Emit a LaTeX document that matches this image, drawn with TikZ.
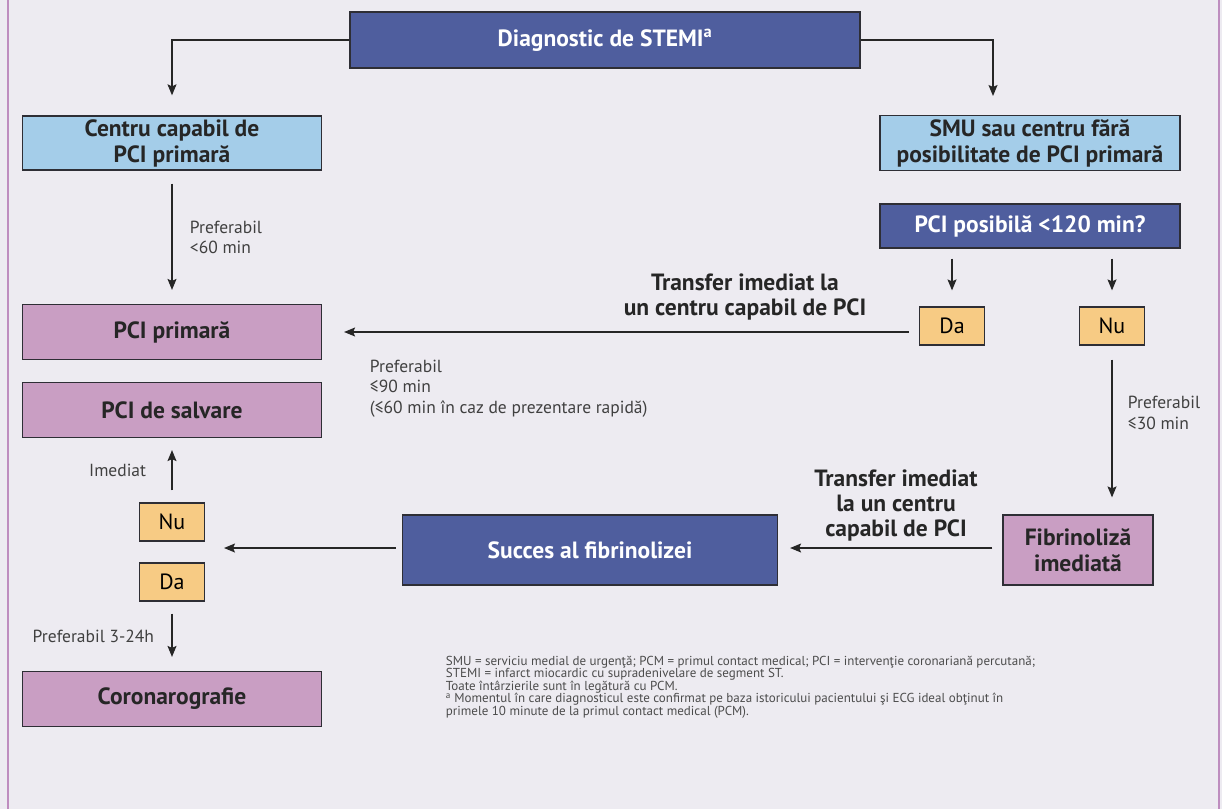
\documentclass[tikz,border=0pt]{standalone}
\usepackage{fontspec}
\setmainfont{PT Sans}
\usetikzlibrary{arrows,arrows.meta,positioning,calc}
\definecolor{fondgri}{HTML}{EDEBF1}
\definecolor{albastru}{HTML}{4F5E9E}
\definecolor{bleu}{HTML}{A4CDE9}
\definecolor{mov}{HTML}{C99EC3}
\definecolor{portocaliu}{HTML}{F7CB84}
\definecolor{cadru}{HTML}{BE8DBF}
\definecolor{contur}{HTML}{2E2E35}
\tikzstyle{block} = [rectangle, draw=contur, line width=1.2pt, align=center,
    font=\fontsize{23.5}{26}\selectfont\bfseries, text=black!85]
\tikzstyle{dark} = [block, fill=albastru, text=white]
\tikzstyle{light} = [block, fill=bleu, minimum width=299pt, minimum height=54pt]
\tikzstyle{pink} = [block, fill=mov, minimum width=299pt, minimum height=55pt]
\tikzstyle{answer} = [rectangle, draw=contur, line width=1.2pt, fill=portocaliu,
    minimum width=65pt, minimum height=38pt, font=\fontsize{22}{24}\selectfont]
\tikzstyle{note} = [font=\fontsize{17.5}{20.5}\selectfont, text=black!75, align=left]
\tikzstyle{transfer} = [font=\fontsize{23.5}{25}\selectfont\bfseries, text=black!85, align=center]

\begin{document}
\begin{tikzpicture}[x=1pt,y=-1pt,->,>={Stealth[length=11pt,width=9pt,inset=2pt]},
                    line width=1.2pt,draw=black!85]
  \useasboundingbox (0,0) rectangle (1222,809);
  \fill[fondgri] (0,0) rectangle (1222,809);
  \draw[-,cadru,line width=2pt] (8,0) -- (8,809) (1219,0) -- (1219,809);

  \node[dark, minimum width=510pt, minimum height=56pt] (diag) at (605,40)
      {Diagnostic de STEMI\textsuperscript{a}};
  \node[light] (centru) at (172,143) {Centru capabil de\\PCI primară};
  \node[light, minimum width=300pt] (smu) at (1030,143)
      {SMU sau centru fără\\posibilitate de PCI primară};
  \node[dark, minimum width=300pt, minimum height=44pt] (posibil) at (1030,226)
      {PCI posibilă <120 min?};
  \node[answer] (da1) at (952,326) {Da};
  \node[answer] (nu1) at (1112,326) {Nu};
  \node[pink] (primara) at (172,332) {PCI primară};
  \node[pink] (salvare) at (172,410) {PCI de salvare};
  \node[answer] (nu2) at (172,522) {Nu};
  \node[answer] (da2) at (172,582) {Da};
  \node[pink] (corono) at (172,699) {Coronarografie};
  \node[dark, minimum width=375pt, minimum height=70pt] (succes) at (590,550)
      {Succes al fibrinolizei};
  \node[pink, minimum width=150pt, minimum height=70pt] (fibri) at (1078,550)
      {Fibrinoliză\\imediată};
  \coordinate (smuin) at (993,116);
  \coordinate (decizie) at (224,548);

  % sageti
  \draw[shorten >=20pt] (diag.west) -| (centru.north);
  \draw[shorten >=20pt] (diag.east) -| (smuin);
  \draw[shorten <=13pt, shorten >=14pt] (centru) -- (primara)
      node[note, midway, right=14pt] {Preferabil\\<60 min};
  \draw[shorten <=10pt, shorten >=16pt] (posibil.south -| da1) -- (da1);
  \draw[shorten <=10pt, shorten >=16pt] (posibil.south -| nu1) -- (nu1);
  \draw[shorten <=10pt, shorten >=22pt] (da1.west |- primara.east) -- (primara.east);
  \draw[shorten <=14pt, shorten >=17pt] (nu1) -- (fibri.north -| nu1)
      node[note, pos=0.4, right=12pt] {Preferabil\\≤30 min};
  \draw[shorten <=10pt, shorten >=12pt] (fibri.west |- 0,548) -- (succes.east |- 0,548);
  \draw[shorten <=6pt] (succes.west |- 0,548) -- (decizie);
  \draw[shorten <=12pt, shorten >=12pt] (nu2) -- (salvare)
      node[note, midway, left=22pt] {Imediat};
  \draw[shorten <=12pt, shorten >=14pt] (da2) -- (corono)
      node[note, pos=0.5, left=14pt] {Preferabil 3-24h};

  % etichete
  \node[transfer] (tr1) at (745,297) {Transfer imediat la\\un centru capabil de PCI};
  \node[note, anchor=north west] (pref90) at (366,356)
      {Preferabil\\≤90 min\\(≤60 min în caz de prezentare rapidă)};
  \node[transfer] (tr2) at (896,505) {Transfer imediat\\la un centru\\capabil de PCI};
  \node[anchor=north west, align=left, text=black!70,
        font=\fontsize{13}{12.5}\selectfont] (legenda) at (442,652)
      {SMU = serviciu medial de urgenţă; PCM = primul contact medical; PCI = intervenţie coronariană percutană;\\
       STEMI = infarct miocardic cu supradenivelare de segment ST.\\
       Toate întârzierile sunt în legătură cu PCM.\\
       \textsuperscript{a} Momentul în care diagnosticul este confirmat pe baza istoricului pacientului şi ECG ideal obţinut în\\
       primele 10 minute de la primul contact medical (PCM).};
\end{tikzpicture}
\end{document}
